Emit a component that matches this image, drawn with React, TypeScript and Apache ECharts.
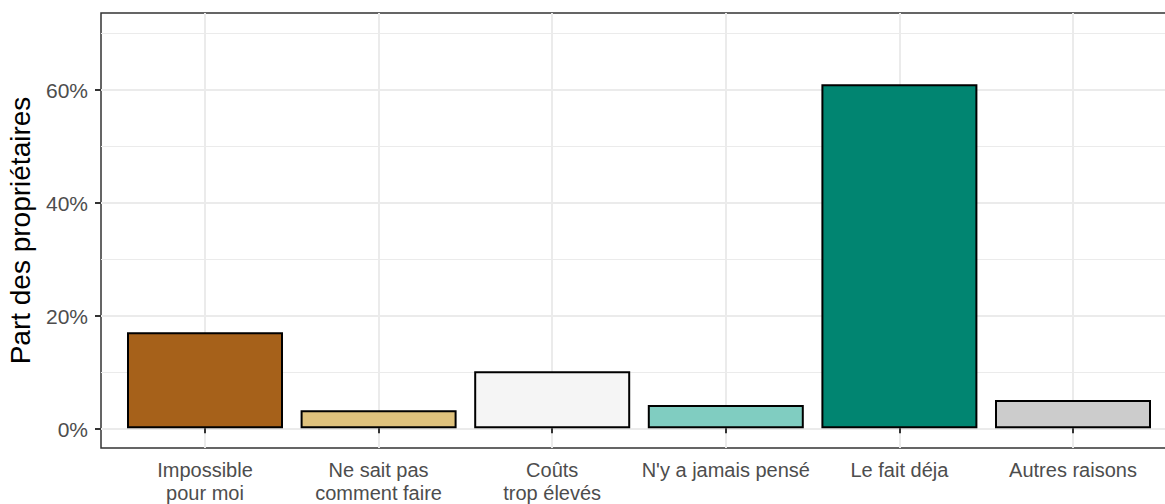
import React, { useEffect, useRef } from "react";
import * as echarts from "echarts";

const categories = [
  "Impossible\npour moi",
  "Ne sait pas\ncomment faire",
  "Coûts\ntrop élevés",
  "N'y a jamais pensé",
  "Le fait déja",
  "Autres raisons",
];
const values = [17.0, 3.2, 10.1, 4.1, 60.9, 5.0];
const barColors = ["#A6611A", "#DFC27D", "#F5F5F5", "#80CDC1", "#018571", "#CCCCCC"];
const yTitle = "Part des propriétaires";

const FONT = "'Liberation Sans', Arial, sans-serif";

export default function App() {
  const ref = useRef<HTMLDivElement>(null);
  useEffect(() => {
    document.body.style.margin = "0";
    const chart = echarts.init(ref.current!, undefined, { renderer: "svg" });
    chart.setOption({
      animation: false,
      backgroundColor: "#FFFFFF",
      textStyle: { fontFamily: FONT },
      grid: [
        // y-scale grid (0..80 so that 70 sits just under the frame top)
        { left: 101, top: -23, width: 1100, height: 452, outerBoundsMode: "none", containLabel: false },
        // frame grid
        { left: 101, top: 13, width: 1100, height: 435, outerBoundsMode: "none", show: true, borderColor: "#333333", borderWidth: 1.5, backgroundColor: "transparent" },
        // bars grid
        { left: 205, top: 13, width: 868, height: 435, outerBoundsMode: "none" },
      ],
      xAxis: [
        { gridIndex: 0, type: "value", show: false, min: 0, max: 1 },
        { gridIndex: 1, type: "value", show: false, min: 0, max: 1 },
        {
          gridIndex: 2,
          type: "category",
          data: categories,
          boundaryGap: false,
          axisLine: { show: false },
          axisTick: { show: true, length: 5, lineStyle: { color: "#333333", width: 2 } },
          axisLabel: {
            color: "#4D4D4D",
            fontSize: 20,
            lineHeight: 23,
            margin: 10,
            interval: 0,
            fontFamily: FONT,
          },
          splitLine: { show: true, lineStyle: { color: "#EBEBEB", width: 2 } },
        },
      ],
      yAxis: [
        {
          gridIndex: 0,
          type: "value",
          min: 0,
          max: 80,
          interval: 20,
          axisLine: { show: false },
          axisTick: { show: true, length: 6, lineStyle: { color: "#333333", width: 2 } },
          axisLabel: {
            color: "#4D4D4D",
            fontSize: 21,
            margin: 13,
            fontFamily: FONT,
            formatter: (v: number) => (v <= 60 ? v + "%" : ""),
          },
          splitLine: { show: true, lineStyle: { color: "#EBEBEB", width: 2 } },
          minorTick: { show: false, splitNumber: 2 },
          minorSplitLine: { show: true, lineStyle: { color: "#EBEBEB", width: 1 } },
        },
        {
          gridIndex: 1,
          type: "value",
          min: 0,
          max: 1,
          axisLine: { show: false },
          axisTick: { show: false },
          axisLabel: { show: false },
          splitLine: { show: false },
          name: yTitle,
          nameLocation: "middle",
          nameRotate: 90,
          nameGap: 67,
          nameTextStyle: { color: "#000000", fontSize: 28, fontFamily: FONT },
        },
        {
          gridIndex: 2,
          type: "value",
          min: -3.5,
          max: 73.5,
          show: false,
        },
      ],
      series: [
        {
          type: "bar",
          xAxisIndex: 2,
          yAxisIndex: 2,
          clip: false,
          barWidth: 156,
          data: values.map((v, i) => ({
            value: v,
            itemStyle: { color: barColors[i], borderColor: "#000000", borderWidth: 2 },
          })),
          z: 5,
        },
      ],
    });
    return () => chart.dispose();
  }, []);
  return <div ref={ref} style={{ width: 1165, height: 504 }} />;
}
